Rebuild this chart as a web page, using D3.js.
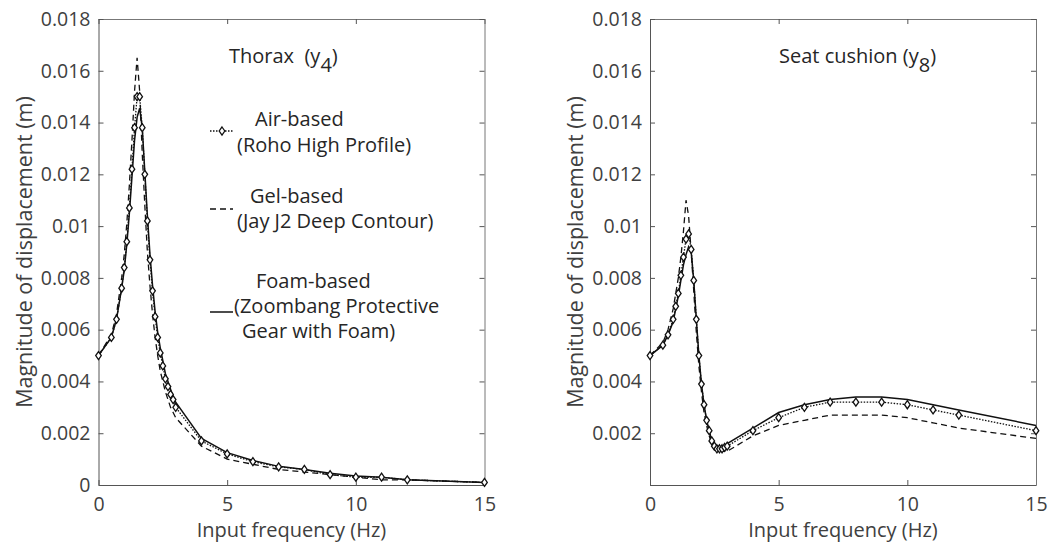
<!DOCTYPE html>
<html>
<head>
<meta charset="utf-8">
<script src="https://cdn.jsdelivr.net/npm/d3@7"></script>
<style>
  body { margin: 0; background: #fff; }
  text { font-family: "Open Sans", "Noto Sans", sans-serif; }
</style>
</head>
<body>
<div id="chart"></div>
<script>
// frequencies (Hz) shared by all series
const freqs = [0, 0.5, 0.7, 0.9, 1, 1.1, 1.2, 1.3, 1.4, 1.5, 1.6, 1.7, 1.8, 1.9, 2, 2.1, 2.2, 2.3, 2.4, 2.5,
               2.6, 2.7, 2.8, 2.9, 3, 4, 5, 6, 7, 8, 9, 10, 11, 12, 15];

// Thorax (y4)
const thoraxAir  = [0.005, 0.0057, 0.0064, 0.0076, 0.0084, 0.0094, 0.0107, 0.0122, 0.0138, 0.0150, 0.0150, 0.0138, 0.0120, 0.0102, 0.0087, 0.0075, 0.0065, 0.0057, 0.0051, 0.0046,
                    0.0041, 0.0038, 0.0035, 0.0033, 0.0030, 0.0017, 0.0012, 0.0009, 0.0007, 0.0006, 0.0004, 0.0003, 0.0003, 0.0002, 0.0001];
const thoraxGel  = [0.005, 0.0058, 0.0066, 0.0080, 0.0089, 0.0101, 0.0116, 0.0133, 0.0152, 0.0165, 0.0152, 0.0128, 0.0108, 0.0090, 0.0077, 0.0066, 0.0057, 0.0050, 0.0044, 0.0040,
                    0.0036, 0.0033, 0.0030, 0.0028, 0.0026, 0.0015, 0.0010, 0.0008, 0.0006, 0.0005, 0.0004, 0.0003, 0.0002, 0.0002, 0.0001];
const thoraxFoam = [0.005, 0.0057, 0.0064, 0.0076, 0.0083, 0.0093, 0.0105, 0.0119, 0.0133, 0.0142, 0.01455, 0.0138, 0.0121, 0.0104, 0.0089, 0.0077, 0.0067, 0.0059, 0.0053, 0.0048,
                    0.0043, 0.0040, 0.0037, 0.0034, 0.0032, 0.0018, 0.00125, 0.00095, 0.00072, 0.0006, 0.00045, 0.00035, 0.0003, 0.0002, 0.0001];

// Seat cushion (y8)
const seatAir  = [0.005, 0.0054, 0.0058, 0.0064, 0.0069, 0.0074, 0.0081, 0.0088, 0.0095, 0.0097, 0.0091, 0.0079, 0.0064, 0.0050, 0.0039, 0.0031, 0.0025, 0.0021, 0.0017, 0.0015,
                  0.0014, 0.0014, 0.0014, 0.00145, 0.0015, 0.0021, 0.0026, 0.0030, 0.0032, 0.0032, 0.0032, 0.0031, 0.0029, 0.0027, 0.0021];
const seatGel  = [0.005, 0.0055, 0.0060, 0.0068, 0.0074, 0.0080, 0.0088, 0.0098, 0.0110, 0.0104, 0.0090, 0.0075, 0.0059, 0.0046, 0.0036, 0.0028, 0.0023, 0.0019, 0.0016, 0.0014,
                  0.0013, 0.0013, 0.0013, 0.0013, 0.0013, 0.0019, 0.0023, 0.0025, 0.0027, 0.0027, 0.0027, 0.0026, 0.0024, 0.0022, 0.0018];
const seatFoam = [0.005, 0.0054, 0.0058, 0.0063, 0.0068, 0.0073, 0.0079, 0.0085, 0.0089, 0.0092, 0.0090, 0.0079, 0.0064, 0.0050, 0.0039, 0.0031, 0.0025, 0.0021, 0.0017, 0.0015,
                  0.0014, 0.0014, 0.0014, 0.0015, 0.0016, 0.0022, 0.0028, 0.0031, 0.0033, 0.0034, 0.0034, 0.0033, 0.0031, 0.0029, 0.0023];

const xTicks = [0, 5, 10, 15];
const yTicks = [0, 0.002, 0.004, 0.006, 0.008, 0.01, 0.012, 0.014, 0.016, 0.018];

const W = 1049, H = 549;
const plotTop = 19, plotBottom = 485;
const panels = [
  {left: 98.5, right: 484.5, air: thoraxAir, gel: thoraxGel, foam: thoraxFoam, showZero: true},
  {left: 650, right: 1036, air: seatAir, gel: seatGel, foam: seatFoam, showZero: false}
];

const svg = d3.select("#chart").append("svg")
    .attr("width", W)
    .attr("height", H);

const ink = "#262626";

panels.forEach(function(p, i) {
  const x = d3.scaleLinear().domain([0, 15]).range([p.left, p.right]);
  const y = d3.scaleLinear().domain([0, 0.018]).range([plotBottom, plotTop]);
  const g = svg.append("g");

  // box + inward ticks
  const fmt = d => (d === 0 ? (p.showZero ? "0" : "") : String(+d.toFixed(3)));
  const axB = g.append("g").attr("transform", "translate(0," + plotBottom + ")")
      .call(d3.axisBottom(x).tickValues(xTicks).tickSizeInner(-5).tickSizeOuter(0).tickPadding(12));
  const axT = g.append("g").attr("transform", "translate(0," + plotTop + ")")
      .call(d3.axisTop(x).tickValues(xTicks).tickSizeInner(-5).tickSizeOuter(0).tickFormat(""));
  const axL = g.append("g").attr("transform", "translate(" + p.left + ",0)")
      .call(d3.axisLeft(y).tickValues(yTicks).tickSizeInner(-5).tickSizeOuter(0).tickPadding(8).tickFormat(fmt));
  const axR = g.append("g").attr("transform", "translate(" + p.right + ",0)")
      .call(d3.axisRight(y).tickValues(yTicks).tickSizeInner(-5).tickSizeOuter(0).tickFormat(""));
  [axB, axL].forEach(a => a.select(".domain").attr("stroke", "#555"));
  [axT, axR].forEach(a => a.select(".domain").attr("stroke", "#777"));
  [axB, axT, axL, axR].forEach(a => {
    a.select(".domain").attr("stroke-width", 1);
    a.selectAll(".tick line").attr("stroke", "#555");
    a.selectAll(".tick text").attr("fill", "#404040").style("font-size", "19.5px").style("font-family", "'Open Sans', sans-serif");
  });

  // axis titles
  g.append("text")
      .attr("x", (p.left + p.right) / 2)
      .attr("y", 537)
      .attr("text-anchor", "middle")
      .attr("fill", "#404040")
      .style("font-size", "20px")
      .text("Input frequency (Hz)");
  g.append("text")
      .attr("transform", "translate(" + (p.left - 67) + "," + ((plotTop + plotBottom) / 2) + ") rotate(-90)")
      .attr("text-anchor", "middle")
      .attr("fill", "#404040")
      .style("font-size", "21.5px")
      .text("Magnitude of displacement (m)");

  const line = d3.line().x((d, j) => x(freqs[j])).y(d => y(d));

  g.append("path").datum(p.gel)
      .attr("d", line).attr("fill", "none").attr("stroke", "#111")
      .attr("stroke-width", 1.3).attr("stroke-dasharray", "6,4");
  g.append("path").datum(p.foam)
      .attr("d", line).attr("fill", "none").attr("stroke", "#111")
      .attr("stroke-width", 1.5);
  g.append("path").datum(p.air)
      .attr("d", line).attr("fill", "none").attr("stroke", "#111")
      .attr("stroke-width", 1.3).attr("stroke-dasharray", "1.5,1.5");

  const diamond = "M0,-4L2.8,0L0,4L-2.8,0Z";
  g.selectAll(".mk").data(p.air).enter().append("path")
      .attr("class", "mk")
      .attr("transform", (d, j) => "translate(" + x(freqs[j]) + "," + y(d) + ")")
      .attr("d", diamond)
      .attr("fill", "#fff").attr("stroke", "#111").attr("stroke-width", 1.3);
});

// panel titles
const t1 = svg.append("text").attr("x", 229).attr("y", 63).attr("fill", ink)
    .style("font-size", "20px").style("white-space", "pre");
t1.append("tspan").text("Thorax  (y");
t1.append("tspan").attr("dy", 9).text("4");
t1.append("tspan").attr("dy", -9).text(")");

const t2 = svg.append("text").attr("x", 779).attr("y", 63).attr("fill", ink).style("font-size", "20px");
t2.append("tspan").text("Seat cushion (y");
t2.append("tspan").attr("dy", 9).text("8");
t2.append("tspan").attr("dy", -9).text(")");

// legend
const legendLines = [
  {y: 131, dash: "1.5,1.5", w: 1.3, marker: true},
  {y: 209, dash: "6,4", w: 1.3, marker: false},
  {y: 312, dash: null, w: 1.5, marker: false}
];
const legendText = [
  {x: 255, y: 126, t: "Air-based"},
  {x: 237, y: 152, t: "(Roho High Profile)"},
  {x: 250, y: 203, t: "Gel-based"},
  {x: 237, y: 228, t: "(Jay J2 Deep Contour)"},
  {x: 256, y: 288, t: "Foam-based"},
  {x: 234, y: 313, t: "(Zoombang Protective"},
  {x: 242, y: 338, t: "Gear with Foam)"}
];
legendLines.forEach(l => {
  svg.append("line").attr("x1", 210).attr("x2", 233).attr("y1", l.y).attr("y2", l.y)
      .attr("stroke", "#111").attr("stroke-width", l.w)
      .attr("stroke-dasharray", l.dash);
  if (l.marker) {
    svg.append("path").attr("transform", "translate(222," + l.y + ")")
        .attr("d", "M0,-4L2.8,0L0,4L-2.8,0Z")
        .attr("fill", "#fff").attr("stroke", "#111").attr("stroke-width", 1.3);
  }
});
svg.selectAll(".lt").data(legendText).enter().append("text")
    .attr("class", "lt")
    .attr("x", d => d.x).attr("y", d => d.y)
    .attr("fill", ink)
    .style("font-size", "20px")
    .text(d => d.t);
</script>
</body>
</html>
